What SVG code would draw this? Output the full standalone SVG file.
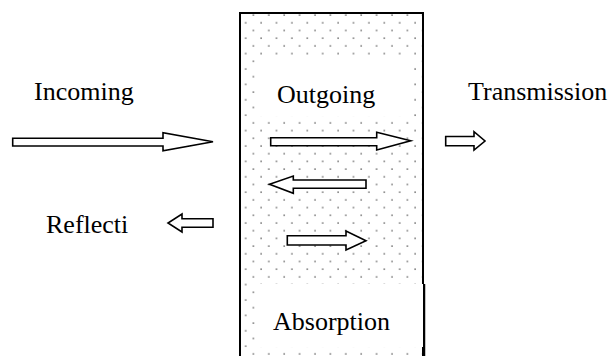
<svg xmlns="http://www.w3.org/2000/svg" width="611" height="356" viewBox="0 0 611 356">
<style>
text{font-family:"Liberation Serif","Times New Roman",serif;font-size:26px;fill:#000}
.arrow{fill:#fff;stroke:#000;stroke-width:1.6;stroke-linejoin:miter}
</style>
<defs>
<pattern id="dots" patternUnits="userSpaceOnUse" x="249.45" y="11.15" width="15.4" height="15.4">
<rect x="3.35" y="3.35" width="1.2" height="1.2" fill="#222"/>
<rect x="11.05" y="11.05" width="1.2" height="1.2" fill="#222"/>
</pattern>
</defs>
<rect width="611" height="356" fill="#fff"/>
<g id="medium">
<rect x="240" y="13" width="183" height="350" fill="url(#dots)" stroke="#000" stroke-width="2"/>
</g>
<g id="outgoing">
<rect x="256" y="59" width="156" height="57" fill="#fff"/>
<text x="277" y="103">Outgoing</text>
</g>
<g id="absorption">
<rect x="255" y="284" width="168" height="63" fill="#fff"/>
<line x1="424.5" y1="284" x2="424.5" y2="356" stroke="#000" stroke-width="1.5"/>
<text x="273" y="330">Absorption</text>
</g>
<g id="incoming"><text x="34" y="100">Incoming</text></g>
<g id="transmission"><text x="468" y="100">Transmission</text></g>
<g id="reflection"><text x="46" y="233">Reflecti</text></g>
<g id="connectors">
<polygon class="arrow" points="12.7,138.3 163,138.3 163,132.7 213,141.7 163,150.7 163,146 12.7,146"/>
<polygon class="arrow" points="270.7,137.7 376.7,137.7 376.7,132.3 410.7,140.7 376.7,150 376.7,145.7 270.7,145.7"/>
<polygon class="arrow" points="366,180 293.3,180 293.3,176 269.5,184.2 293.3,193.3 293.3,188.3 366,188.3"/>
<polygon class="arrow" points="287.3,235.7 346,235.7 346,231 366,240.7 346,250 346,245 287.3,245"/>
<polygon class="arrow" points="445.7,136.5 474,136.5 474,131.7 485,141 474,150 474,145.7 445.7,145.7"/>
<polygon class="arrow" points="213,218.7 182,218.7 182,214 168,223 182,232 182,227.3 213,227.3"/>
</g>
</svg>
